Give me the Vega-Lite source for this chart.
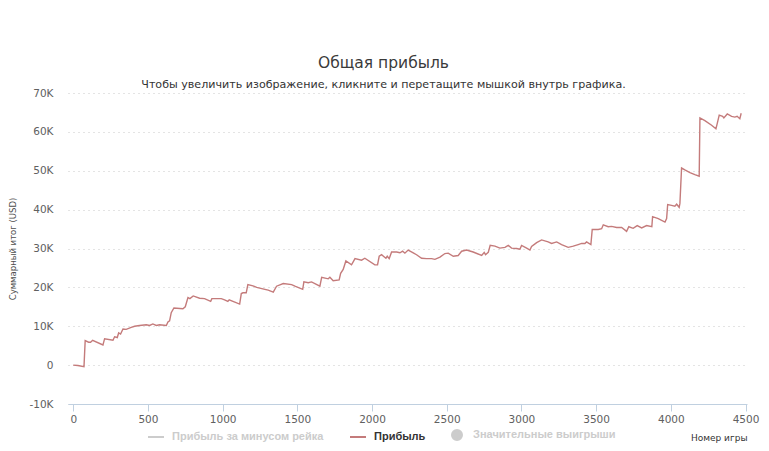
{
  "$schema": "https://vega.github.io/schema/vega-lite/v6.json",
  "width": 679,
  "height": 311,
  "autosize": {"type": "none"},
  "padding": {"left": 68, "top": 93, "right": 22, "bottom": 47},
  "background": "#ffffff",
  "config": {"view": {"stroke": null}},
  "title": {
    "text": "Общая прибыль",
    "subtitle": "Чтобы увеличить изображение, кликните и перетащите мышкой внутрь графика.",
    "anchor": "middle",
    "frame": "group",
    "dx": -24,
    "offset": -2,
    "font": "DejaVu Sans",
    "fontSize": 15.5,
    "fontWeight": "normal",
    "color": "#3a3a3a",
    "subtitleFont": "DejaVu Sans",
    "subtitleFontSize": 11.1,
    "subtitleColor": "#333333",
    "subtitlePadding": 7
  },
  "data": {
    "values": [
      {"game": 0, "profit": 0, "series": "Прибыль"},
      {"game": 31, "profit": -100, "series": "Прибыль"},
      {"game": 72, "profit": -400, "series": "Прибыль"},
      {"game": 80, "profit": 6300, "series": "Прибыль"},
      {"game": 103, "profit": 5900, "series": "Прибыль"},
      {"game": 116, "profit": 5900, "series": "Прибыль"},
      {"game": 130, "profit": 6400, "series": "Прибыль"},
      {"game": 199, "profit": 5200, "series": "Прибыль"},
      {"game": 210, "profit": 6800, "series": "Прибыль"},
      {"game": 266, "profit": 6400, "series": "Прибыль"},
      {"game": 277, "profit": 7300, "series": "Прибыль"},
      {"game": 295, "profit": 7100, "series": "Прибыль"},
      {"game": 304, "profit": 8300, "series": "Прибыль"},
      {"game": 317, "profit": 8000, "series": "Прибыль"},
      {"game": 333, "profit": 9300, "series": "Прибыль"},
      {"game": 355, "profit": 9200, "series": "Прибыль"},
      {"game": 388, "profit": 9700, "series": "Прибыль"},
      {"game": 411, "profit": 10000, "series": "Прибыль"},
      {"game": 444, "profit": 10200, "series": "Прибыль"},
      {"game": 489, "profit": 10400, "series": "Прибыль"},
      {"game": 511, "profit": 10200, "series": "Прибыль"},
      {"game": 533, "profit": 10600, "series": "Прибыль"},
      {"game": 556, "profit": 10200, "series": "Прибыль"},
      {"game": 578, "profit": 10400, "series": "Прибыль"},
      {"game": 623, "profit": 10200, "series": "Прибыль"},
      {"game": 634, "profit": 11100, "series": "Прибыль"},
      {"game": 645, "profit": 11400, "series": "Прибыль"},
      {"game": 656, "profit": 13500, "series": "Прибыль"},
      {"game": 674, "profit": 14700, "series": "Прибыль"},
      {"game": 734, "profit": 14500, "series": "Прибыль"},
      {"game": 750, "profit": 15000, "series": "Прибыль"},
      {"game": 768, "profit": 17400, "series": "Прибыль"},
      {"game": 781, "profit": 17100, "series": "Прибыль"},
      {"game": 803, "profit": 17800, "series": "Прибыль"},
      {"game": 846, "profit": 17200, "series": "Прибыль"},
      {"game": 879, "profit": 17100, "series": "Прибыль"},
      {"game": 920, "profit": 16400, "series": "Прибыль"},
      {"game": 928, "profit": 17100, "series": "Прибыль"},
      {"game": 991, "profit": 17100, "series": "Прибыль"},
      {"game": 1013, "profit": 16800, "series": "Прибыль"},
      {"game": 1035, "profit": 16400, "series": "Прибыль"},
      {"game": 1044, "profit": 16800, "series": "Прибыль"},
      {"game": 1114, "profit": 15700, "series": "Прибыль"},
      {"game": 1125, "profit": 18400, "series": "Прибыль"},
      {"game": 1136, "profit": 18600, "series": "Прибыль"},
      {"game": 1158, "profit": 18600, "series": "Прибыль"},
      {"game": 1169, "profit": 20700, "series": "Прибыль"},
      {"game": 1203, "profit": 20400, "series": "Прибыль"},
      {"game": 1228, "profit": 20000, "series": "Прибыль"},
      {"game": 1283, "profit": 19500, "series": "Прибыль"},
      {"game": 1305, "profit": 19300, "series": "Прибыль"},
      {"game": 1339, "profit": 18800, "series": "Прибыль"},
      {"game": 1361, "profit": 20300, "series": "Прибыль"},
      {"game": 1406, "profit": 21000, "series": "Прибыль"},
      {"game": 1462, "profit": 20700, "series": "Прибыль"},
      {"game": 1484, "profit": 20300, "series": "Прибыль"},
      {"game": 1536, "profit": 19500, "series": "Прибыль"},
      {"game": 1544, "profit": 21400, "series": "Прибыль"},
      {"game": 1573, "profit": 21200, "series": "Прибыль"},
      {"game": 1595, "profit": 21400, "series": "Прибыль"},
      {"game": 1651, "profit": 20300, "series": "Прибыль"},
      {"game": 1663, "profit": 22600, "series": "Прибыль"},
      {"game": 1707, "profit": 22200, "series": "Прибыль"},
      {"game": 1718, "profit": 22600, "series": "Прибыль"},
      {"game": 1740, "profit": 21700, "series": "Прибыль"},
      {"game": 1780, "profit": 21900, "series": "Прибыль"},
      {"game": 1790, "profit": 23600, "series": "Прибыль"},
      {"game": 1807, "profit": 24600, "series": "Прибыль"},
      {"game": 1825, "profit": 26800, "series": "Прибыль"},
      {"game": 1863, "profit": 25800, "series": "Прибыль"},
      {"game": 1886, "profit": 27400, "series": "Прибыль"},
      {"game": 1930, "profit": 27000, "series": "Прибыль"},
      {"game": 1952, "profit": 27500, "series": "Прибыль"},
      {"game": 2019, "profit": 25800, "series": "Прибыль"},
      {"game": 2037, "profit": 25800, "series": "Прибыль"},
      {"game": 2048, "profit": 28000, "series": "Прибыль"},
      {"game": 2064, "profit": 28400, "series": "Прибыль"},
      {"game": 2093, "profit": 27500, "series": "Прибыль"},
      {"game": 2102, "profit": 28000, "series": "Прибыль"},
      {"game": 2115, "profit": 27400, "series": "Прибыль"},
      {"game": 2131, "profit": 29100, "series": "Прибыль"},
      {"game": 2165, "profit": 29100, "series": "Прибыль"},
      {"game": 2187, "profit": 28900, "series": "Прибыль"},
      {"game": 2205, "profit": 29300, "series": "Прибыль"},
      {"game": 2220, "profit": 28800, "series": "Прибыль"},
      {"game": 2242, "profit": 29600, "series": "Прибыль"},
      {"game": 2276, "profit": 28900, "series": "Прибыль"},
      {"game": 2298, "profit": 28400, "series": "Прибыль"},
      {"game": 2332, "profit": 27500, "series": "Прибыль"},
      {"game": 2365, "profit": 27400, "series": "Прибыль"},
      {"game": 2399, "profit": 27400, "series": "Прибыль"},
      {"game": 2421, "profit": 27200, "series": "Прибыль"},
      {"game": 2455, "profit": 27800, "series": "Прибыль"},
      {"game": 2488, "profit": 28700, "series": "Прибыль"},
      {"game": 2510, "profit": 28800, "series": "Прибыль"},
      {"game": 2544, "profit": 28000, "series": "Прибыль"},
      {"game": 2577, "profit": 28200, "series": "Прибыль"},
      {"game": 2600, "profit": 29300, "series": "Прибыль"},
      {"game": 2633, "profit": 29600, "series": "Прибыль"},
      {"game": 2677, "profit": 29100, "series": "Прибыль"},
      {"game": 2734, "profit": 28200, "series": "Прибыль"},
      {"game": 2751, "profit": 29000, "series": "Прибыль"},
      {"game": 2760, "profit": 28400, "series": "Прибыль"},
      {"game": 2778, "profit": 29000, "series": "Прибыль"},
      {"game": 2791, "profit": 30800, "series": "Прибыль"},
      {"game": 2823, "profit": 30600, "series": "Прибыль"},
      {"game": 2856, "profit": 30100, "series": "Прибыль"},
      {"game": 2890, "profit": 30300, "series": "Прибыль"},
      {"game": 2912, "profit": 30800, "series": "Прибыль"},
      {"game": 2934, "profit": 30100, "series": "Прибыль"},
      {"game": 2968, "profit": 30000, "series": "Прибыль"},
      {"game": 2990, "profit": 29800, "series": "Прибыль"},
      {"game": 3001, "profit": 30800, "series": "Прибыль"},
      {"game": 3035, "profit": 30100, "series": "Прибыль"},
      {"game": 3057, "profit": 29600, "series": "Прибыль"},
      {"game": 3068, "profit": 30500, "series": "Прибыль"},
      {"game": 3102, "profit": 31500, "series": "Прибыль"},
      {"game": 3135, "profit": 32200, "series": "Прибыль"},
      {"game": 3179, "profit": 31700, "series": "Прибыль"},
      {"game": 3202, "profit": 31300, "series": "Прибыль"},
      {"game": 3236, "profit": 31700, "series": "Прибыль"},
      {"game": 3269, "profit": 31000, "series": "Прибыль"},
      {"game": 3313, "profit": 30300, "series": "Прибыль"},
      {"game": 3347, "profit": 30600, "series": "Прибыль"},
      {"game": 3380, "profit": 31000, "series": "Прибыль"},
      {"game": 3403, "profit": 31300, "series": "Прибыль"},
      {"game": 3425, "profit": 31300, "series": "Прибыль"},
      {"game": 3436, "profit": 31700, "series": "Прибыль"},
      {"game": 3465, "profit": 31000, "series": "Прибыль"},
      {"game": 3474, "profit": 34900, "series": "Прибыль"},
      {"game": 3514, "profit": 34900, "series": "Прибыль"},
      {"game": 3537, "profit": 35100, "series": "Прибыль"},
      {"game": 3548, "profit": 36100, "series": "Прибыль"},
      {"game": 3581, "profit": 35600, "series": "Прибыль"},
      {"game": 3604, "profit": 35700, "series": "Прибыль"},
      {"game": 3637, "profit": 35400, "series": "Прибыль"},
      {"game": 3671, "profit": 35400, "series": "Прибыль"},
      {"game": 3704, "profit": 34400, "series": "Прибыль"},
      {"game": 3719, "profit": 35600, "series": "Прибыль"},
      {"game": 3748, "profit": 35200, "series": "Прибыль"},
      {"game": 3775, "profit": 35900, "series": "Прибыль"},
      {"game": 3805, "profit": 35300, "series": "Прибыль"},
      {"game": 3838, "profit": 35900, "series": "Прибыль"},
      {"game": 3873, "profit": 35600, "series": "Прибыль"},
      {"game": 3878, "profit": 38200, "series": "Прибыль"},
      {"game": 3916, "profit": 37700, "series": "Прибыль"},
      {"game": 3961, "profit": 36800, "series": "Прибыль"},
      {"game": 3972, "profit": 37700, "series": "Прибыль"},
      {"game": 3979, "profit": 41300, "series": "Прибыль"},
      {"game": 4005, "profit": 41100, "series": "Прибыль"},
      {"game": 4027, "profit": 40900, "series": "Прибыль"},
      {"game": 4039, "profit": 41400, "series": "Прибыль"},
      {"game": 4056, "profit": 40600, "series": "Прибыль"},
      {"game": 4061, "profit": 41600, "series": "Прибыль"},
      {"game": 4072, "profit": 50700, "series": "Прибыль"},
      {"game": 4094, "profit": 50200, "series": "Прибыль"},
      {"game": 4128, "profit": 49500, "series": "Прибыль"},
      {"game": 4161, "profit": 49000, "series": "Прибыль"},
      {"game": 4190, "profit": 48600, "series": "Прибыль"},
      {"game": 4195, "profit": 63600, "series": "Прибыль"},
      {"game": 4228, "profit": 62900, "series": "Прибыль"},
      {"game": 4273, "profit": 61700, "series": "Прибыль"},
      {"game": 4302, "profit": 60800, "series": "Прибыль"},
      {"game": 4311, "profit": 62200, "series": "Прибыль"},
      {"game": 4324, "profit": 64300, "series": "Прибыль"},
      {"game": 4347, "profit": 64000, "series": "Прибыль"},
      {"game": 4355, "profit": 63600, "series": "Прибыль"},
      {"game": 4378, "profit": 64600, "series": "Прибыль"},
      {"game": 4407, "profit": 64000, "series": "Прибыль"},
      {"game": 4429, "profit": 63800, "series": "Прибыль"},
      {"game": 4444, "profit": 64000, "series": "Прибыль"},
      {"game": 4462, "profit": 63400, "series": "Прибыль"},
      {"game": 4471, "profit": 64800, "series": "Прибыль"}
    ]
  },
  "mark": {"type": "line", "strokeWidth": 1.4, "interpolate": "linear"},
  "encoding": {
    "x": {
      "field": "game",
      "type": "quantitative",
      "scale": {"domain": [-35, 4510], "nice": false, "zero": false},
      "axis": {
        "title": "Номер игры",
        "titleAnchor": "end",
        "titleFont": "DejaVu Sans",
        "titleFontSize": 9,
        "titleFontWeight": "normal",
        "titleColor": "#333333",
        "titlePadding": 9,
        "values": [0, 500, 1000, 1500, 2000, 2500, 3000, 3500, 4000, 4500],
        "format": "d",
        "labelFont": "DejaVu Sans",
        "labelFontSize": 10.5,
        "labelColor": "#606060",
        "labelPadding": 3,
        "domainColor": "#c0d0e0",
        "tickColor": "#c0d0e0",
        "tickSize": 7,
        "grid": false
      }
    },
    "y": {
      "field": "profit",
      "type": "quantitative",
      "scale": {"domain": [-10000, 70000], "nice": false},
      "axis": {
        "title": "Суммарный итог (USD)",
        "titleFont": "DejaVu Sans",
        "titleFontSize": 8.5,
        "titleFontWeight": "normal",
        "titleColor": "#4d4d4d",
        "titlePadding": 11,
        "values": [-10000, 0, 10000, 20000, 30000, 40000, 50000, 60000, 70000],
        "labelExpr": "datum.value === 0 ? '0' : (datum.value / 1000) + 'K'",
        "labelFont": "DejaVu Sans",
        "labelFontSize": 10.5,
        "labelColor": "#606060",
        "labelPadding": 15,
        "domain": false,
        "ticks": false,
        "grid": true,
        "gridColor": "#c8c8c8",
        "gridDash": [1, 4]
      }
    },
    "color": {
      "field": "series",
      "type": "nominal",
      "scale": {
        "domain": ["Прибыль за минусом рейка", "Прибыль", "Значительные выигрыши"],
        "range": ["#cccccc", "#c47b7b", "#cccccc"]
      },
      "legend": {
        "title": null,
        "orient": "none",
        "legendX": 79,
        "legendY": 333,
        "direction": "horizontal",
        "padding": 0,
        "symbolType": {"expr": "datum.value === 'Значительные выигрыши' ? 'circle' : 'stroke'"},
        "symbolSize": {"expr": "datum.value === 'Значительные выигрыши' ? 100 : 256"},
        "symbolStrokeWidth": 2,
        "symbolFillColor": {"expr": "datum.value === 'Значительные выигрыши' ? '#cccccc' : 'transparent'"},
        "labelFont": "Liberation Sans",
        "labelFontSize": 11,
        "labelFontWeight": "bold",
        "labelColor": {"expr": "datum.value === 'Прибыль' ? '#333333' : '#cccccc'"},
        "labelOffset": 7,
        "columnPadding": 22,
        "labelLimit": 300
      }
    }
  }
}
